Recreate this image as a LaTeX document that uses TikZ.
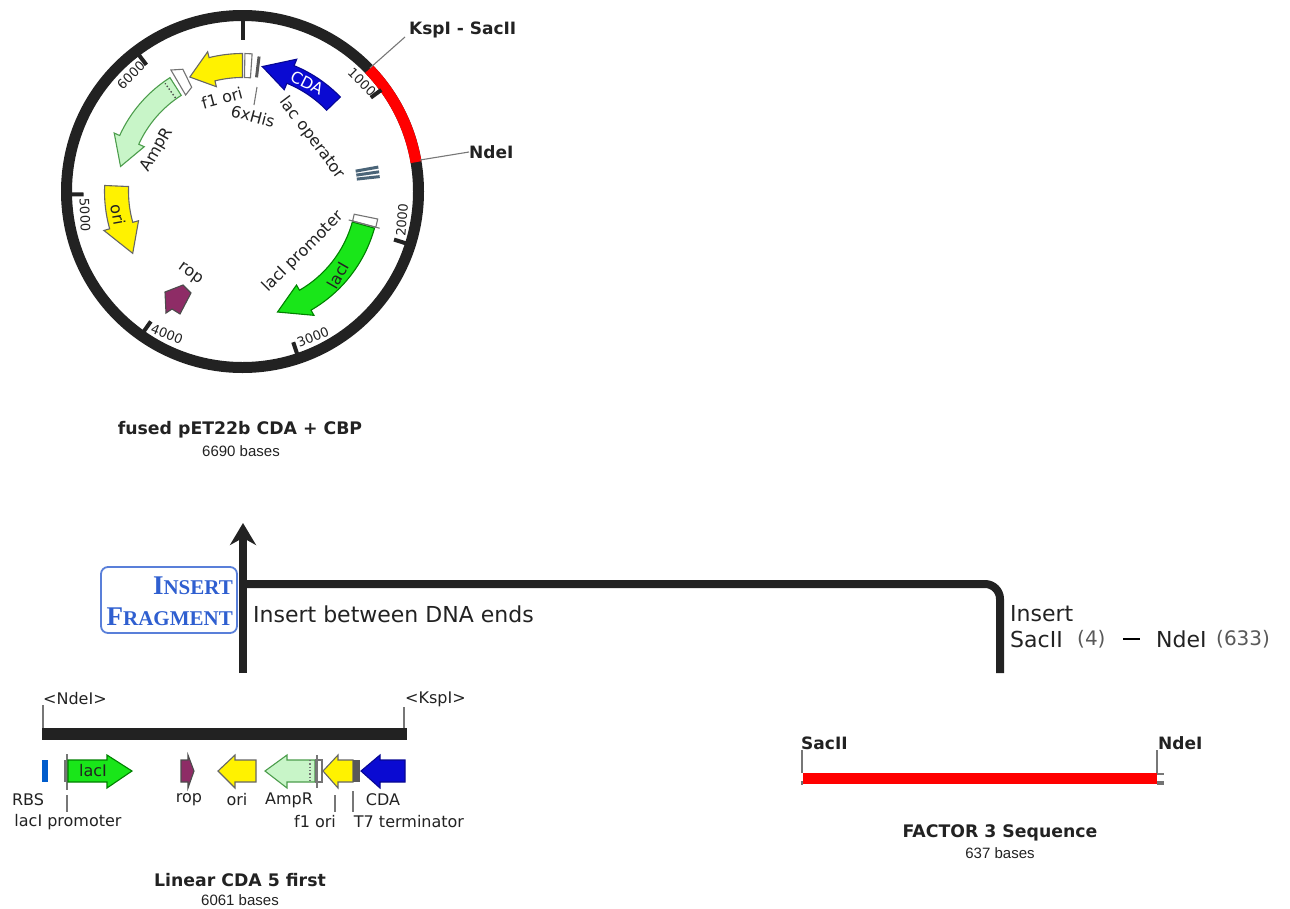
\documentclass[tikz,border=0pt]{standalone}
\usepackage{fontspec}
\setmainfont{DejaVu Sans}
\newfontfamily\basesfont{Liberation Sans}
\newfontfamily\boxfont{Liberation Serif}
\usetikzlibrary{calc,arrows.meta,positioning}
\definecolor{inkdark}{HTML}{222222}
\definecolor{leadgray}{HTML}{777777}
\definecolor{featyellow}{HTML}{FFF200}
\definecolor{featgreen}{HTML}{19E619}
\definecolor{featpale}{HTML}{C8F5C8}
\definecolor{featblue}{HTML}{0A0AD2}
\definecolor{featmaroon}{HTML}{8E2C66}
\definecolor{boxblue}{HTML}{2F5FD0}
\definecolor{opslate}{HTML}{4A6478}
% arc feature: style, tail angle, head base angle, tip angle, inner r, outer r, overhang
\newcommand{\arcfeature}[7][]{%
  \draw[#1] (#2:#5) arc[start angle=#2, end angle=#3, radius=#5]
    -- (#3:{#5-#7}) -- (#4:{(#5+#6)/2}) -- (#3:{#6+#7})
    -- (#3:#6) arc[start angle=#3, end angle=#2, radius=#6] -- cycle;
}
% straight feature: style, tail x, head base x, tip x
\newcommand{\linfeature}[4][]{%
  \draw[#1] (#2,760) -- (#3,760) -- (#3,755) -- (#4,771) -- (#3,788) -- (#3,782)
    -- (#2,782) -- cycle;
}

\begin{document}
\begin{tikzpicture}[x=1pt, y=-1pt,
    ring_line/.style={line width=11pt, inkdark},
    tick_line/.style={line width=4pt, inkdark},
    lead_line/.style={line width=1.1pt, leadgray},
    tick_label/.style={font=\fontsize{13}{15}\selectfont, text=inkdark, inner sep=0pt},
    feat_label/.style={font=\fontsize{16}{19}\selectfont, text=inkdark, inner sep=0pt},
    site_label/.style={font=\fontsize{17}{20}\selectfont\bfseries, text=inkdark, inner sep=0pt},
    title_label/.style={font=\fontsize{17.3}{20}\selectfont\bfseries, text=inkdark, inner sep=0pt},
    bases_label/.style={font=\fontsize{15}{17}\selectfont\basesfont, text=inkdark, inner sep=0pt},
    note_label/.style={font=\fontsize{22}{26}\selectfont, text=inkdark, inner sep=0pt, anchor=west},
    count_label/.style={font=\fontsize{20}{24}\selectfont, text=black!65, inner sep=0pt, anchor=west},
    fat_line/.style={line width=8pt, inkdark},
    yellow_feat/.style={fill=featyellow, draw=black!60, line width=1.1pt},
    green_feat/.style={fill=featgreen, draw=black!50!green, line width=1.1pt},
    pale_feat/.style={fill=featpale, draw=black!55!green!70, line width=1.1pt},
    blue_feat/.style={fill=featblue, draw=featblue!70!black, line width=1.1pt},
    maroon_feat/.style={fill=featmaroon, draw=black!70, line width=1.1pt},
    open_feat/.style={fill=white, draw=black!55, line width=1.1pt}
  ]
  \useasboundingbox (0,0) rectangle (1290,908);

  % --- Plasmid, angles counted from the centre ---
  \begin{scope}[shift={(242.5,191.5)}, x=1pt, y=1pt]
    \draw[ring_line] (0,0) circle[radius=176];
    \draw[ring_line, red] (44:176) arc[start angle=44, end angle=9.6, radius=176];

    % --- Ticks ---
    \draw[tick_line] (90:172) -- (90:152);
    \draw[tick_line] (36.2:172) -- (36.2:159);
    \draw[tick_line] (-17.6:172) -- (-17.6:159);
    \draw[tick_line] (-71.4:172) -- (-71.4:159);
    \draw[tick_line] (-125.2:172) -- (-125.2:159);
    \draw[tick_line] (-179:172) -- (-179:159);
    \draw[tick_line] (127.2:172) -- (127.2:159);

    % --- Features ---
    \arcfeature[blue_feat]{44}{67.7}{81}{117}{136}{7}
    \arcfeature[yellow_feat]{90}{104}{114.7}{114}{138}{6}
    \draw[open_feat] (89:114) -- (89:138) -- (86:138) -- (86:114) -- cycle;
    \draw[line width=3pt, black!65] (83:115) -- (83:136);
    \arcfeature[pale_feat]{122.5}{155.5}{168.4}{114}{135}{6}
    \draw[open_feat] (116:116) -- (116:136) -- (120.5:141) -- (120.5:112) -- cycle;
    \draw[line width=1.4pt, black!70, dotted] (125.6:115) -- (125.6:133);
    \arcfeature[yellow_feat]{177.5}{195.7}{209.4}{114}{138}{6}
    \arcfeature[green_feat]{-15.5}{-60}{-73.8}{114}{137}{6}
    \draw[open_feat] (-11.5:114) -- (-11.5:138) -- (-15:138) -- (-15:114) -- cycle;
    \draw[lead_line] (-15:110) -- (-15:142);
    \draw[line width=3pt, opslate] (6.2:115) -- (6.2:138);
    \draw[line width=3pt, opslate] (8.2:115) -- (8.2:138);
    \draw[line width=3pt, opslate] (10.2:115) -- (10.2:138);
  \end{scope}
  \draw[maroon_feat] (165,292) -- (183,285) -- (191,293) -- (180,314) -- (172,309) -- (166,313) -- cycle;

  % --- Plasmid site labels ---
  \node[site_label, anchor=west] (ksp_sac) at (409,30) {KspI - SacII};
  \node[site_label, anchor=west] (nde_top) at (469,152) {NdeI};
  \coordinate (ksp_cut) at (370,68);
  \coordinate (ksp_end) at (405,37);
  \coordinate (nde_cut) at (420,160);
  \draw[lead_line] (ksp_cut) -- (ksp_end);
  \draw[lead_line] (nde_cut) -- (nde_top.west);

  % --- Tick labels ---
  \node[tick_label, rotate=-45] (tick_a) at (362,82) {1000};
  \node[tick_label, rotate=85] (tick_b) at (402,220) {2000};
  \node[tick_label, rotate=22] (tick_c) at (313,337) {3000};
  \node[tick_label, rotate=-22] (tick_d) at (167,334) {4000};
  \node[tick_label, rotate=-88] (tick_e) at (85,215) {5000};
  \node[tick_label, rotate=45] (tick_f) at (131,75) {6000};

  % --- Plasmid feature labels ---
  \node[feat_label, text=white, rotate=-27] (cda_top) at (307,83) {CDA};
  \node[feat_label, rotate=15] (f_top) at (222,98) {f1 ori};
  \node[feat_label, rotate=-15] (his_top) at (253,116) {6xHis};
  \coordinate (his_end) at (257,87);
  \coordinate (his_low) at (254,105);
  \draw[lead_line] (his_end) -- (his_low);
  \node[feat_label, rotate=-53] (lac_op) at (312,138) {lac operator};
  \node[feat_label, rotate=60] (amp_top) at (157,150) {AmpR};
  \node[feat_label, rotate=-80] (ori_top) at (118,215) {ori};
  \node[feat_label, rotate=-35] (rop_top) at (190,274) {rop};
  \node[feat_label, rotate=45] (laci_prom) at (303,252) {lacI promoter};
  \node[feat_label, rotate=60] (laci_top) at (338,275) {lacI};

  % --- Plasmid title ---
  \node[title_label] (title_top) at (240,430) {fused pET22b CDA + CBP};
  \node[bases_label] (bases_top) at (241,451) {6690 bases};

  % --- Insert connector ---
  \coordinate (stem_low) at (243,673);
  \coordinate (stem_tip) at (243,523);
  \coordinate (stem_join) at (243,584);
  \coordinate (frag_corner) at (1000,584);
  \coordinate (frag_low) at (1000,673);
  \draw[fat_line, -{Stealth[length=22pt, width=26pt]}] (stem_low) -- (stem_tip);
  \draw[fat_line, rounded corners=15pt] (stem_join) -- (frag_corner) -- (frag_low);

  \node[draw=boxblue!80, line width=1.8pt, rounded corners=7pt, fill=white, minimum width=136pt,
    minimum height=66pt, inner sep=0pt] (frag_box) at (169,600) {};
  \node[font=\boxfont\bfseries, text=boxblue, inner sep=0pt, anchor=east] (frag_a) at (233,586)
    {\fontsize{27}{29}\selectfont I\fontsize{21}{29}\selectfont NSERT};
  \node[font=\boxfont\bfseries, text=boxblue, inner sep=0pt, anchor=east] (frag_b) at (233,617)
    {\fontsize{27}{29}\selectfont F\fontsize{21}{29}\selectfont RAGMENT};
  \node[note_label] (note_a) at (253,614) {Insert between DNA ends};
  \node[note_label] (note_b) at (1010,614) {Insert};
  \node[note_label] (note_c) at (1010,639) {SacII};
  \node[count_label] (note_d) at (1077,639) {(4)};
  \coordinate (dash_a) at (1123,639);
  \coordinate (dash_b) at (1140,639);
  \draw[line width=2.4pt, black] (dash_a) -- (dash_b);
  \node[note_label] (note_e) at (1156,639) {NdeI};
  \node[count_label] (note_f) at (1216,639) {(633)};

  % --- Linear map ---
  \fill[inkdark] (42,728) rectangle (407,740);
  \node[feat_label, anchor=west] (nde_lin) at (43,699) {<NdeI>};
  \node[feat_label, anchor=west] (ksp_lin) at (405,699) {<KspI>};
  \coordinate (nde_stop) at (43,728);
  \coordinate (ksp_stop) at (404,728);
  \draw[lead_line] (nde_stop) -- (nde_stop |- nde_lin.south);
  \draw[lead_line] (ksp_stop) -- (ksp_stop |- ksp_lin.south);

  \fill[blue!55!cyan!80!black] (42,760) rectangle (48,782);
  \fill[black!55] (64,760) rectangle (68,782);
  \draw[lead_line] (67,754) -- (67,790);
  \linfeature[green_feat]{68}{107}{132}
  \draw[maroon_feat] (181,760) -- (188,760) -- (188,755) -- (194,771) -- (188,788) -- (188,782) -- (181,782) -- cycle;
  \linfeature[yellow_feat]{256}{235}{218}
  \linfeature[pale_feat]{315}{287}{265}
  \draw[line width=1.3pt, black!55, dotted] (310,760) -- (310,782);
  \draw[open_feat] (316,760) rectangle (322,782);
  \draw[lead_line] (317,755) -- (317,788);
  \linfeature[yellow_feat]{353}{338}{323}
  \fill[black!65] (353,760) rectangle (360,782);
  \linfeature[blue_feat]{405}{380}{361}

  % --- Linear map labels ---
  \node[feat_label] (laci_lin) at (93,771) {lacI};
  \node[feat_label] (rbs_lin) at (28,800) {RBS};
  \node[feat_label] (prom_lin) at (68,822) {lacI promoter};
  \node[feat_label] (rop_lin) at (189,800) {rop};
  \node[feat_label] (ori_lin) at (237,800) {ori};
  \node[feat_label] (amp_lin) at (289,800) {AmpR};
  \node[feat_label] (cda_lin) at (383,800) {CDA};
  \node[feat_label] (f_lin) at (315,822) {f1 ori};
  \node[feat_label] (term_lin) at (409,822) {T7 terminator};
  \coordinate (prom_mark) at (67,795);
  \coordinate (prom_foot) at (67,812);
  \coordinate (f_mark) at (335,795);
  \coordinate (f_foot) at (335,812);
  \coordinate (term_mark) at (353,791);
  \coordinate (term_foot) at (353,812);
  \draw[lead_line] (prom_mark) -- (prom_foot);
  \draw[lead_line] (f_mark) -- (f_foot);
  \draw[lead_line] (term_mark) -- (term_foot);
  \node[title_label] (title_lin) at (240,880) {Linear CDA 5 first};
  \node[bases_label] (bases_lin) at (240,900) {6061 bases};

  % --- Factor sequence ---
  \fill[black!55] (801,781) rectangle (803,785);
  \fill[black!55] (1157,781) rectangle (1164,785);
  \draw[lead_line] (1157,774) -- (1164,774);
  \fill[red] (803,773) rectangle (1157,784);
  \node[site_label, anchor=west] (sac_seq) at (801,743) {SacII};
  \node[site_label, anchor=west] (nde_seq) at (1158,743) {NdeI};
  \coordinate (sac_stop) at (802,773);
  \coordinate (nde_stop_b) at (1157,773);
  \draw[lead_line] (sac_stop) -- (sac_stop |- sac_seq.south);
  \draw[lead_line] (nde_stop_b) -- (nde_stop_b |- nde_seq.south);
  \node[title_label] (title_seq) at (1000,833) {FACTOR 3 Sequence};
  \node[bases_label] (bases_seq) at (1000,853) {637 bases};
\end{tikzpicture}
\end{document}
